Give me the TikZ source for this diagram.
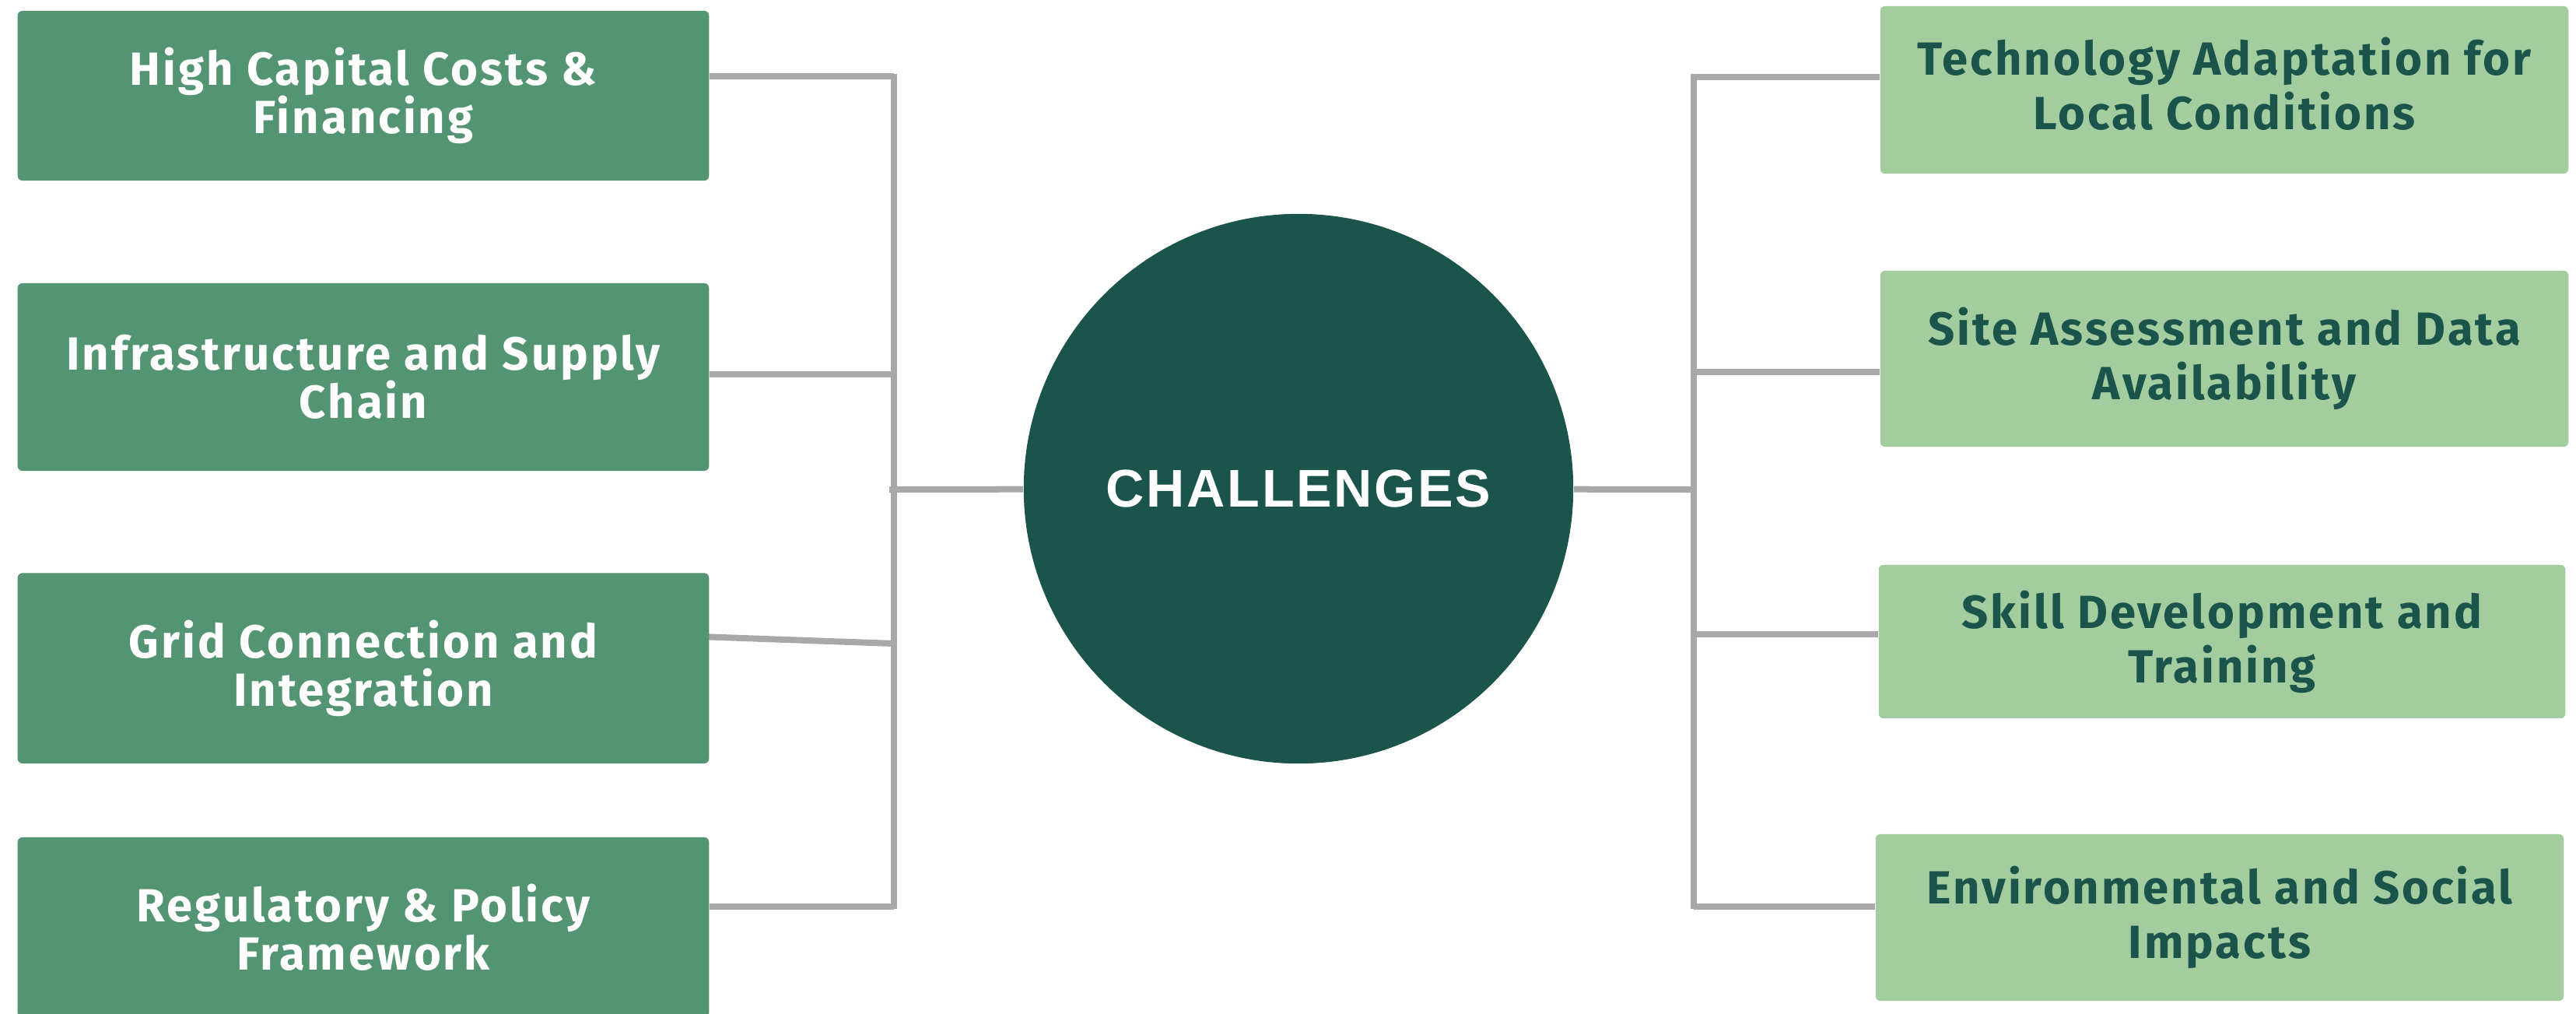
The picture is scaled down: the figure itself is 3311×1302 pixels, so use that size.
\documentclass[tikz,border=0pt]{standalone}
\usepackage{fontspec}
\setmainfont{Fira Sans}[LetterSpace=5.0]
\newfontfamily\chfont{Liberation Sans}[LetterSpace=4.0]
\usetikzlibrary{backgrounds}
\definecolor{lgreen}{HTML}{539473}
\definecolor{rgreen}{HTML}{A3CD9F}
\definecolor{dgreen}{HTML}{1A544B}
\definecolor{linegray}{HTML}{A8A8A8}
\begin{document}
\begin{tikzpicture}[x=0.01cm,y=-0.01cm,
  lbox/.style={fill=lgreen, rounded corners=0.06cm, minimum width=8.88cm, inner sep=0pt, align=center, text=white, font={\fontsize{17}{17.6}\selectfont\bfseries}},
  rbox/.style={fill=rgreen, rounded corners=0.06cm, minimum width=8.84cm, inner sep=0pt, align=center, text=dgreen, font={\fontsize{17}{19.9}\selectfont\bfseries}},
  conn/.style={draw=linegray, line width=0.08cm}]
\useasboundingbox (0,0) rectangle (3311,1302);

\node[lbox, minimum height=2.18cm] (L1) at (467,123) {High Capital Costs \&\\Financing};
\node[lbox, minimum height=2.41cm] (L2) at (467,484.5) {Infrastructure and Supply\\Chain};
\node[lbox, minimum height=2.445cm] (L3) at (467,858.7) {Grid Connection and\\Integration};
\node[lbox, minimum height=2.32cm] (L4) at (467,1192) {Regulatory \& Policy\\Framework};

\node[rbox, minimum height=2.15cm, text depth=0.16cm] (R1) at (2859,115.5) {Technology Adaptation for\\Local Conditions};
\node[rbox, minimum height=2.26cm] (R2) at (2859,461) {Site Assessment and Data\\Availability};
\node[rbox, minimum width=8.82cm, minimum height=1.97cm] (R3) at (2856,824.5) {Skill Development and\\Training};
\node[rbox, minimum height=2.14cm] (R4) at (2853,1179) {Environmental and Social\\Impacts};

\node[circle, fill=dgreen, minimum size=7.06cm, inner sep=0pt, text=white, font={\chfont\fontsize{19.4}{20}\selectfont\bfseries}] (C) at (1669,628) {CHALLENGES};

\coordinate (LT) at (1149,95);
\coordinate (LB) at (1149,1168);
\coordinate (lj1) at (1149,98);
\coordinate (lj2) at (1149,481);
\coordinate (lj3) at (1149,827);
\coordinate (lj4) at (1149,1165);
\coordinate (lc) at (1143,629);
\coordinate (l3s) at (899,818);
\coordinate (RT) at (2177,96);
\coordinate (RB) at (2177,1168);
\coordinate (rj1) at (2173,99);
\coordinate (rj2) at (2177,478);
\coordinate (rj3) at (2177,815);
\coordinate (rj4) at (2177,1165);
\coordinate (rc) at (2177,629);

\begin{pgfonlayer}{background}
\draw[conn] (LT) -- (LB);
\draw[conn] (L1.east |- lj1) -- (lj1);
\draw[conn] (L2.east |- lj2) -- (lj2);
\draw[conn] (l3s) -- (lj3);
\draw[conn] (L4.east |- lj4) -- (lj4);
\draw[conn] (lc) -- (C);
\draw[conn] (RT) -- (RB);
\draw[conn] (rj1) -- (R1.west |- rj1);
\draw[conn] (rj2) -- (R2.west |- rj2);
\draw[conn] (rj3) -- (R3.west |- rj3);
\draw[conn] (rj4) -- (R4.west |- rj4);
\draw[conn] (C) -- (rc);
\end{pgfonlayer}
\end{tikzpicture}
\end{document}
